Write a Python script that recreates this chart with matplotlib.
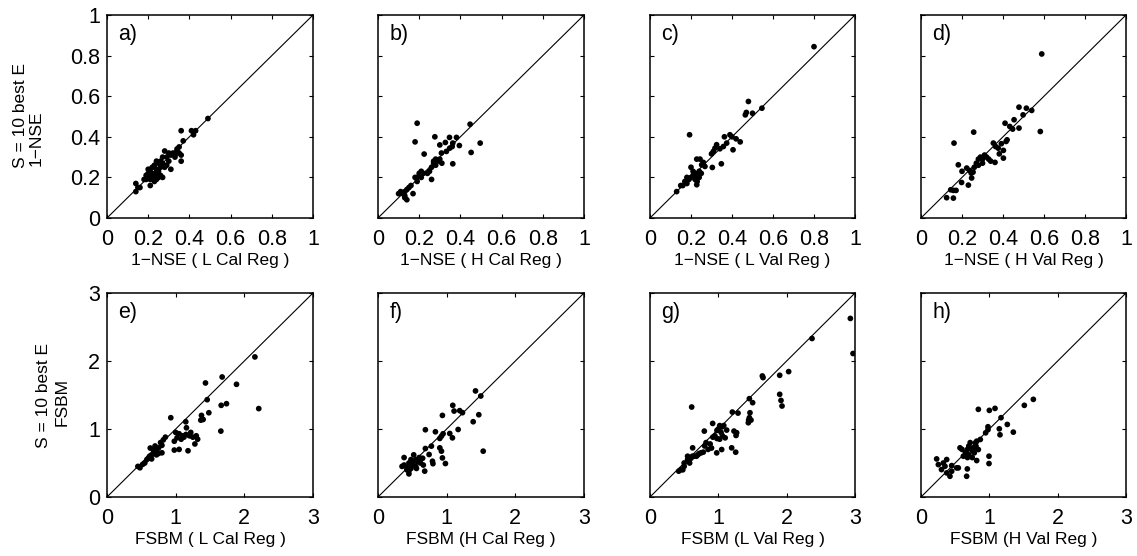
import numpy as np
import matplotlib
matplotlib.use('Agg')
import matplotlib.pyplot as plt

plt.rcParams['font.family'] = ['Liberation Sans', 'DejaVu Sans']

# panel a) 1-NSE, L Cal Reg
a_x = [0.49, 0.36, 0.41, 0.43, 0.42, 0.37, 0.35, 0.34, 0.28, 0.30, 0.31, 0.32, 0.33, 0.34,
       0.35, 0.36, 0.33, 0.29, 0.30, 0.36, 0.31, 0.27, 0.27, 0.26, 0.25, 0.24, 0.23, 0.22,
       0.21, 0.20, 0.22, 0.23, 0.24, 0.25, 0.26, 0.27, 0.22, 0.21, 0.20, 0.19, 0.18, 0.21,
       0.23, 0.24, 0.19, 0.20, 0.14, 0.15, 0.14, 0.16, 0.25, 0.28, 0.29, 0.26, 0.24]
a_y = [0.49, 0.43, 0.43, 0.43, 0.41, 0.38, 0.35, 0.34, 0.33, 0.32, 0.31, 0.32, 0.31, 0.33,
       0.32, 0.31, 0.30, 0.30, 0.28, 0.28, 0.24, 0.30, 0.27, 0.25, 0.27, 0.28, 0.26, 0.25,
       0.24, 0.24, 0.22, 0.21, 0.22, 0.23, 0.21, 0.20, 0.20, 0.19, 0.20, 0.19, 0.19, 0.16,
       0.18, 0.19, 0.21, 0.22, 0.17, 0.15, 0.13, 0.15, 0.20, 0.25, 0.26, 0.28, 0.24]

# panel b) 1-NSE, H Cal Reg
b_x = [0.19, 0.447, 0.496, 0.452, 0.18, 0.276, 0.347, 0.381, 0.395, 0.30, 0.327, 0.36,
       0.363, 0.348, 0.332, 0.308, 0.224, 0.363, 0.27, 0.28, 0.29, 0.30, 0.31, 0.28, 0.27,
       0.26, 0.25, 0.24, 0.22, 0.21, 0.20, 0.19, 0.18, 0.21, 0.26, 0.19, 0.15, 0.14, 0.13,
       0.12, 0.10, 0.11, 0.13, 0.14, 0.13, 0.17, 0.16]
b_y = [0.467, 0.462, 0.369, 0.323, 0.375, 0.40, 0.397, 0.397, 0.357, 0.36, 0.372, 0.352,
       0.369, 0.344, 0.328, 0.320, 0.315, 0.267, 0.28, 0.29, 0.28, 0.29, 0.27, 0.26, 0.27,
       0.25, 0.23, 0.22, 0.22, 0.20, 0.22, 0.20, 0.20, 0.23, 0.19, 0.18, 0.15, 0.14, 0.13,
       0.12, 0.12, 0.13, 0.11, 0.09, 0.10, 0.12, 0.16]

# panel c) 1-NSE, L Val Reg
c_x = [0.80, 0.48, 0.546, 0.50, 0.465, 0.47, 0.193, 0.363, 0.39, 0.40, 0.42, 0.44, 0.405,
       0.374, 0.358, 0.341, 0.325, 0.317, 0.309, 0.30, 0.348, 0.304, 0.26, 0.244, 0.228,
       0.252, 0.268, 0.228, 0.20, 0.21, 0.22, 0.23, 0.24, 0.20, 0.19, 0.22, 0.23, 0.21,
       0.24, 0.25, 0.18, 0.17, 0.16, 0.15, 0.18, 0.13]
c_y = [0.844, 0.574, 0.541, 0.516, 0.508, 0.52, 0.41, 0.40, 0.41, 0.40, 0.39, 0.375, 0.336,
       0.369, 0.352, 0.341, 0.361, 0.344, 0.328, 0.316, 0.267, 0.249, 0.274, 0.29, 0.29,
       0.262, 0.254, 0.164, 0.25, 0.23, 0.22, 0.21, 0.20, 0.20, 0.19, 0.19, 0.18, 0.21,
       0.23, 0.22, 0.20, 0.18, 0.16, 0.16, 0.17, 0.13]

# panel d) 1-NSE, H Val Reg
d_x = [0.589, 0.582, 0.257, 0.161, 0.478, 0.514, 0.54, 0.498, 0.454, 0.41, 0.433, 0.447,
       0.478, 0.415, 0.42, 0.353, 0.364, 0.377, 0.392, 0.402, 0.382, 0.402, 0.361, 0.28,
       0.29, 0.30, 0.31, 0.32, 0.33, 0.34, 0.27, 0.28, 0.30, 0.26, 0.182, 0.20, 0.223,
       0.237, 0.245, 0.254, 0.198, 0.231, 0.247, 0.145, 0.158, 0.171, 0.125, 0.158]
d_y = [0.808, 0.426, 0.423, 0.369, 0.546, 0.541, 0.53, 0.508, 0.484, 0.467, 0.451, 0.438,
       0.443, 0.377, 0.385, 0.369, 0.352, 0.344, 0.366, 0.333, 0.316, 0.295, 0.274, 0.29,
       0.30, 0.29, 0.31, 0.30, 0.29, 0.28, 0.27, 0.26, 0.27, 0.25, 0.262, 0.23, 0.246,
       0.234, 0.221, 0.226, 0.175, 0.162, 0.197, 0.139, 0.136, 0.136, 0.10, 0.098]

# panel e) FSBM, L Cal Reg
e_x = [2.154, 2.21, 1.677, 1.886, 1.434, 1.459, 1.483, 1.663, 1.74, 1.376, 1.40, 1.366,
       1.658, 0.929, 1.147, 1.157, 1.0, 1.05, 1.1, 1.15, 1.2, 1.25, 1.3, 1.32, 1.28, 1.18,
       1.05, 0.98, 1.02, 1.08, 1.12, 1.22, 0.98, 0.85, 0.82, 0.78, 0.80, 0.45, 0.48, 0.52,
       0.55, 0.58, 0.60, 0.62, 0.65, 0.63, 0.67, 0.70, 0.72, 0.75, 0.75, 0.72, 0.68, 0.70,
       0.80, 0.65]
e_y = [2.06, 1.30, 1.765, 1.657, 1.677, 1.431, 1.239, 1.348, 1.372, 1.20, 1.14, 1.13,
       0.969, 1.166, 1.106, 1.018, 0.95, 0.93, 0.90, 0.92, 0.90, 0.88, 0.90, 0.85, 0.78,
       0.68, 0.70, 0.69, 0.87, 0.85, 0.88, 0.95, 0.82, 0.88, 0.84, 0.80, 0.76, 0.45, 0.43,
       0.48, 0.50, 0.55, 0.57, 0.60, 0.62, 0.72, 0.70, 0.75, 0.68, 0.72, 0.64, 0.62, 0.66,
       0.65, 0.65, 0.56]

# panel f) FSBM, H Cal Reg
f_x = [1.42, 1.497, 1.532, 1.468, 1.386, 1.089, 1.108, 1.19, 1.23, 0.938, 0.69, 0.836,
       0.90, 0.924, 0.948, 1.045, 1.084, 1.167, 0.90, 0.924, 0.938, 0.982, 0.778, 0.69,
       0.744, 0.793, 0.80, 0.35, 0.38, 0.42, 0.45, 0.48, 0.50, 0.52, 0.55, 0.58, 0.60,
       0.62, 0.65, 0.55, 0.45, 0.45, 0.48, 0.68, 0.66, 0.38, 0.52, 0.60, 0.56, 0.42]
f_y = [1.56, 1.485, 0.674, 1.21, 1.107, 1.348, 1.264, 1.27, 1.24, 1.20, 0.989, 0.959,
       0.861, 0.895, 0.93, 0.934, 0.87, 0.993, 0.723, 0.674, 0.575, 0.492, 0.748, 0.713,
       0.625, 0.526, 0.49, 0.45, 0.47, 0.44, 0.50, 0.55, 0.48, 0.52, 0.55, 0.52, 0.55,
       0.50, 0.57, 0.45, 0.38, 0.34, 0.42, 0.38, 0.47, 0.58, 0.62, 0.58, 0.42, 0.40]

# panel g) FSBM, L Val Reg
g_x = [2.932, 2.971, 2.371, 2.029, 1.898, 1.644, 1.654, 1.898, 1.917, 1.932, 0.61, 1.454,
       1.502, 1.205, 1.288, 1.463, 1.454, 1.444, 1.478, 1.439, 0.917, 0.795, 1.122, 1.229,
       1.259, 1.268, 1.02, 1.05, 1.08, 1.0, 0.98, 1.04, 0.95, 0.98, 1.06, 1.1, 1.02, 0.92,
       1.195, 1.254, 0.976, 1.049, 0.624, 0.8, 0.85, 0.88, 0.82, 0.75, 0.70, 0.68, 0.65,
       0.6, 0.55, 0.5, 0.55, 0.5, 0.45, 0.42, 0.48, 0.58, 0.9, 0.78, 0.62, 0.72]
g_y = [2.626, 2.11, 2.331, 1.844, 1.79, 1.78, 1.756, 1.51, 1.42, 1.338, 1.323, 1.446,
       1.387, 1.249, 1.234, 1.239, 1.166, 1.131, 1.131, 1.092, 1.082, 0.969, 0.984, 0.969,
       0.905, 0.945, 1.05, 1.03, 1.05, 1.0, 0.98, 0.95, 0.9, 0.86, 0.9, 0.87, 0.85, 0.88,
       0.723, 0.659, 0.649, 0.698, 0.723, 0.75, 0.70, 0.78, 0.80, 0.65, 0.62, 0.60, 0.60,
       0.57, 0.55, 0.50, 0.6, 0.45, 0.40, 0.38, 0.40, 0.50, 0.72, 0.66, 0.60, 0.64]

# panel h) FSBM, H Val Reg
h_x = [1.644, 1.512, 0.839, 1.0, 1.083, 1.171, 1.263, 1.351, 1.146, 1.156, 0.98, 0.946,
       0.98, 0.868, 0.815, 0.805, 0.839, 0.995, 0.995, 0.815, 0.678, 0.668, 0.7, 0.72,
       0.68, 0.75, 0.78, 0.7, 0.65, 0.62, 0.72, 0.78, 0.75, 0.6, 0.68, 0.8, 0.571, 0.229,
       0.327, 0.376, 0.449, 0.522, 0.30, 0.376, 0.424, 0.449, 0.351, 0.254, 0.546]
h_y = [1.436, 1.348, 1.289, 1.274, 1.303, 1.166, 1.067, 0.954, 1.003, 0.915, 1.033, 0.944,
       0.99, 0.846, 0.821, 0.748, 0.698, 0.60, 0.492, 0.536, 0.413, 0.305, 0.75, 0.72,
       0.70, 0.68, 0.65, 0.62, 0.65, 0.60, 0.80, 0.72, 0.58, 0.70, 0.58, 0.80, 0.723, 0.56,
       0.50, 0.551, 0.462, 0.428, 0.403, 0.354, 0.305, 0.379, 0.452, 0.477, 0.428]

panels = [
    (a_x, a_y, 'a)', '1\u2212NSE ( L Cal Reg )'),
    (b_x, b_y, 'b)', '1\u2212NSE ( H Cal Reg )'),
    (c_x, c_y, 'c)', '1\u2212NSE ( L Val Reg )'),
    (d_x, d_y, 'd)', '1\u2212NSE ( H Val Reg )'),
    (e_x, e_y, 'e)', 'FSBM ( L Cal Reg )'),
    (f_x, f_y, 'f)', 'FSBM (H Cal Reg )'),
    (g_x, g_y, 'g)', 'FSBM (L Val Reg )'),
    (h_x, h_y, 'h)', 'FSBM (H Val Reg )'),
]
top_ticks = [0, 0.2, 0.4, 0.6, 0.8, 1]
top_labels = ['0', '0.2', '0.4', '0.6', '0.8', '1']
bot_ticks = [0, 1, 2, 3]
bot_labels = ['0', '1', '2', '3']
# row y-labels: (text, x px, y px) - two lines drawn separately as in the original
row_ylabels = [
    [('S = 10 best E', 21, 115), ('1\u2212NSE', 36, 138)],
    [('S = 10 best E', 44, 395), ('FSBM', 62, 402)],
]

W, H = 1137, 556
fig = plt.figure(figsize=(W / 100, H / 100), dpi=100)

lefts = [107, 378, 650, 921]
widths = [206, 206, 205, 205]
row_top = [15, 293]
row_h = [203, 204]

for i, (xs, ys, tag, xlab) in enumerate(panels):
    row, col = divmod(i, 4)
    l, w = lefts[col], widths[col]
    t, h = row_top[row], row_h[row]
    ax = fig.add_axes([l / W, 1 - (t + h) / H, w / W, h / H])
    lim = 1 if row == 0 else 3
    ticks = top_ticks if row == 0 else bot_ticks
    labels = top_labels if row == 0 else bot_labels
    ax.plot([0, lim], [0, lim], color='black', linewidth=0.8)
    ax.scatter(xs, ys, s=17, color='black', edgecolors='none', zorder=3)
    ax.set_xlim(0, lim)
    ax.set_ylim(0, lim)
    ax.set_xticks(ticks)
    ax.set_xticklabels(labels)
    ax.set_yticks(ticks)
    if col == 0:
        ax.set_yticklabels(labels)
    else:
        ax.set_yticklabels([])
    ax.tick_params(direction='in', top=True, right=True, length=3, width=0.8,
                   labelsize=15.5)
    ax.tick_params(axis='x', pad=8)
    ax.tick_params(axis='y', pad=5)
    ax.set_xlabel(xlab, fontsize=12.5, labelpad=2)
    for sp in ax.spines.values():
        sp.set_linewidth(1.1)
    ax.text(0.055, 0.955, tag, transform=ax.transAxes, fontsize=15.5,
            ha='left', va='top')

for lines in row_ylabels:
    for txt, px, py in lines:
        fig.text(px / W, 1 - py / H, txt, rotation=90, fontsize=12.5,
                 ha='center', va='center')

fig.savefig('out.png', dpi=100)
